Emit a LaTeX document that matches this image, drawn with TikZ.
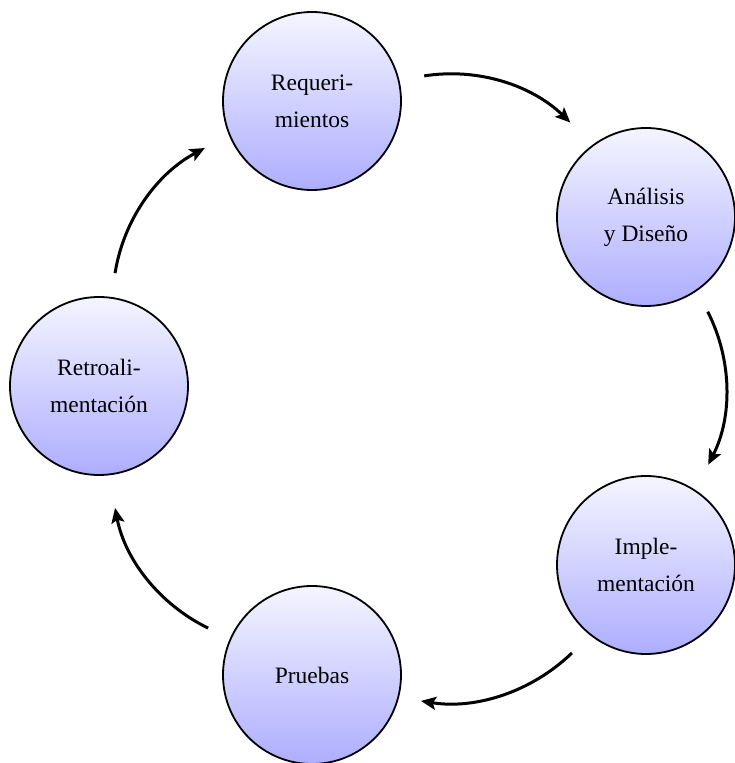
\documentclass[tikz,border=0pt]{standalone}
\usepackage{fontspec}
\setmainfont{Liberation Serif}
\usetikzlibrary{arrows.meta,calc}
\begin{document}
\begin{tikzpicture}[x=1pt,y=1pt,
  phase/.style={circle, draw=black, line width=1.8pt, minimum size=178pt,
    inner sep=0pt, top color=blue!4!white, bottom color=blue!32!white,
    align=center, font=\fontsize{23.5}{37}\selectfont},
  flow/.style={line width=3pt, looseness=0.9,
    -{Stealth[length=15pt,width=13pt,inset=3pt]}}]
\useasboundingbox (0,0) rectangle (734,763);

% the five phases of the cycle
\node[phase] (req)  at (312,662) {Requeri-\\mientos};
\node[phase] (ana)  at (646,546) {Análisis\\y Diseño};
\node[phase] (impl) at (646,198) {Imple-\\mentación};
\node[phase] (test) at (312,88)  {Pruebas};
\node[phase] (fb)   at (99,377)  {Retroali-\\mentación};

% curved arrows between consecutive phases
\draw[flow] ($(req)+(12.6:115)$)   to[out=9,   in=136]  ($(ana)+(128.7:121)$);
\draw[flow] ($(ana)+(-56.9:113)$)  to[out=-63, in=63]   ($(impl)+(58.2:118)$);
\draw[flow] ($(impl)+(229.9:115)$) to[out=224, in=-9]   ($(test)+(-13.4:112)$);
\draw[flow] ($(test)+(155.7:114)$) to[out=154, in=-79]  ($(fb)+(-82.5:123)$);
\draw[flow] ($(fb)+(81.9:114)$)    to[out=81,  in=208]  ($(req)+(203.7:117)$);
\end{tikzpicture}
\end{document}
